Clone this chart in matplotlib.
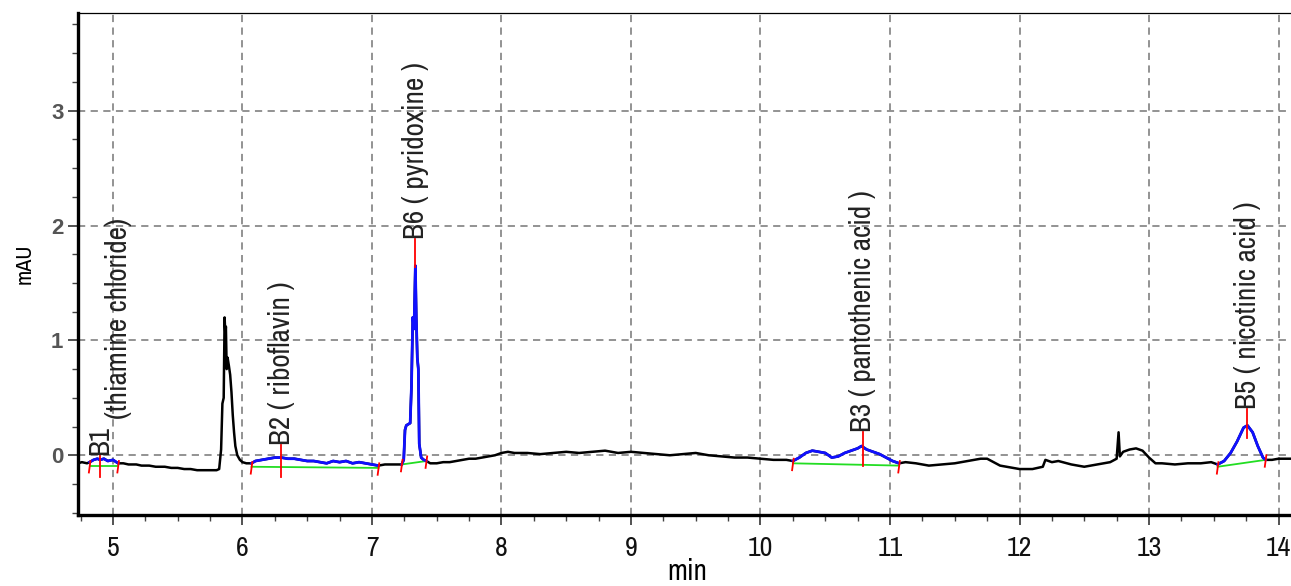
import matplotlib
matplotlib.use("Agg")
import matplotlib.pyplot as plt
from matplotlib.ticker import MultipleLocator

# chromatogram trace (min, mAU)
t = [4.73, 4.76, 4.80, 4.82, 4.85, 4.88, 4.90, 4.93, 4.96, 5.00, 5.04, 5.08, 5.12, 5.18,
     5.22, 5.28, 5.33, 5.40, 5.45, 5.50, 5.55, 5.60, 5.65, 5.70, 5.75, 5.80, 5.82, 5.835,
     5.845, 5.855, 5.862, 5.868, 5.872, 5.878, 5.885, 5.895, 5.905, 5.915, 5.925, 5.935,
     5.945, 5.96, 5.98, 6.00, 6.03, 6.07, 6.10, 6.15, 6.20, 6.25, 6.30, 6.35, 6.40, 6.45,
     6.50, 6.55, 6.60, 6.65, 6.70, 6.75, 6.80, 6.85, 6.90, 6.95, 7.00, 7.05, 7.10, 7.15,
     7.20, 7.23, 7.245, 7.255, 7.265, 7.28, 7.295, 7.305, 7.315, 7.325, 7.335, 7.342,
     7.350, 7.358, 7.365, 7.38, 7.40, 7.42, 7.45, 7.50, 7.55, 7.60, 7.65, 7.70, 7.75,
     7.80, 7.85, 7.90, 7.95, 8.00, 8.05, 8.10, 8.20, 8.30, 8.40, 8.50, 8.60, 8.70, 8.80,
     8.90, 9.00, 9.10, 9.20, 9.30, 9.40, 9.50, 9.60, 9.70, 9.80, 9.90, 10.00, 10.10,
     10.20, 10.25, 10.30, 10.35, 10.40, 10.45, 10.50, 10.55, 10.60, 10.65, 10.70, 10.75,
     10.78, 10.82, 10.87, 10.92, 10.97, 11.02, 11.07, 11.12, 11.20, 11.30, 11.40, 11.50,
     11.60, 11.70, 11.75, 11.80, 11.85, 11.90, 12.00, 12.10, 12.18, 12.20, 12.25, 12.30,
     12.40, 12.50, 12.60, 12.70, 12.75, 12.765, 12.775, 12.80, 12.85, 12.90, 12.95,
     13.00, 13.05, 13.10, 13.20, 13.30, 13.40, 13.48, 13.53, 13.58, 13.63, 13.68, 13.73,
     13.76, 13.80, 13.84, 13.88, 13.90, 13.95, 14.00, 14.05, 14.13]
mau = [-0.07, -0.06, -0.07, -0.06, -0.04, -0.03, -0.04, -0.03, -0.05, -0.04, -0.07, -0.07,
       -0.08, -0.08, -0.09, -0.09, -0.10, -0.10, -0.11, -0.11, -0.12, -0.12, -0.13, -0.13,
       -0.13, -0.13, -0.12, 0.05, 0.45, 0.50, 1.20, 1.05, 1.12, 0.75, 0.85, 0.78, 0.70,
       0.55, 0.35, 0.20, 0.08, 0.00, -0.04, -0.06, -0.07, -0.07, -0.05, -0.04, -0.03,
       -0.02, -0.02, -0.03, -0.03, -0.04, -0.05, -0.05, -0.06, -0.07, -0.05, -0.06, -0.05,
       -0.07, -0.06, -0.07, -0.08, -0.09, -0.08, -0.08, -0.08, -0.08, -0.04, 0.22, 0.26,
       0.27, 0.28, 0.60, 1.20, 1.10, 1.65, 1.20, 0.85, 0.75, 0.10, -0.02, -0.04, -0.05,
       -0.07, -0.07, -0.06, -0.06, -0.05, -0.04, -0.03, -0.03, -0.02, -0.01, 0.00, 0.02,
       0.03, 0.02, 0.02, 0.01, 0.02, 0.03, 0.02, 0.03, 0.04, 0.02, 0.03, 0.02, 0.01, 0.00,
       0.01, 0.02, 0.00, -0.01, -0.02, -0.02, -0.03, -0.04, -0.04, -0.05, -0.02, 0.02,
       0.04, 0.03, 0.02, -0.02, -0.01, 0.02, 0.04, 0.06, 0.08, 0.05, 0.03, 0.01, -0.02,
       -0.05, -0.07, -0.06, -0.07, -0.09, -0.08, -0.07, -0.05, -0.03, -0.03, -0.06, -0.09,
       -0.10, -0.12, -0.12, -0.10, -0.04, -0.06, -0.05, -0.08, -0.10, -0.08, -0.06, -0.03,
       0.20, -0.01, 0.03, 0.05, 0.06, 0.04, -0.02, -0.07, -0.07, -0.08, -0.07, -0.07,
       -0.06, -0.08, -0.05, 0.02, 0.12, 0.24, 0.26, 0.20, 0.08, -0.02, -0.04, -0.04,
       -0.03, -0.03, -0.03]

# integrated peaks
peak_names = ["B1", "B2 ( riboflavin )", "B6 ( pyridoxine )",
              "B3 ( pantothenic acid )", "B5 ( nicotinic acid )"]
peak_start = [4.82, 6.07, 7.23, 10.25, 13.53]
peak_end = [5.04, 7.05, 7.42, 11.07, 13.90]
peak_apex = [4.90, 6.30, 7.335, 10.79, 13.76]
base_start = [-0.09, -0.10, -0.08, -0.07, -0.10]
base_end = [-0.09, -0.11, -0.05, -0.09, -0.04]
marker_lo = [-0.19, -0.19, 1.64, -0.09, 0.15]
label_y = [0.0, 0.09, 1.88, 0.20, 0.40]

narrow = ["Archivo Narrow", "PT Sans Narrow", "DejaVu Sans"]

fig = plt.figure(figsize=(12.91, 5.86), dpi=100)
ax = fig.add_axes([78 / 1291, 71 / 586, (1296 - 78) / 1291, 502 / 586])

ax.plot(t, mau, color="black", lw=1.8, zorder=3)

for i in range(len(peak_names)):
    seg_t = [x for x in t if peak_start[i] <= x <= peak_end[i]]
    seg_v = [v for x, v in zip(t, mau) if peak_start[i] <= x <= peak_end[i]]
    ax.plot(seg_t, seg_v, color="#1010ff", lw=2.0, zorder=4)
    ax.plot([peak_start[i], peak_end[i]], [base_start[i], base_end[i]],
            color="#22dd22", lw=1.3, zorder=3.5)
    for x0, b in [(peak_start[i], base_start[i]), (peak_end[i], base_end[i])]:
        ax.plot([x0 - 0.006, x0 + 0.006], [b - 0.06, b + 0.04], color="red", lw=1.3, zorder=5)
    ax.plot([peak_apex[i], peak_apex[i]], [marker_lo[i], label_y[i]],
            color="red", lw=1.3, zorder=5)
    ax.text(peak_apex[i], label_y[i], peak_names[i], rotation=90, ha="center",
            va="bottom", fontsize=21, family=narrow, color="#222222", zorder=6)

ax.text(5.04, 0.32, "(thiamine chloride)", rotation=90, ha="center", va="bottom",
        fontsize=21, family=narrow, color="#222222", zorder=6)

ax.set_xlim(4.73, 14.135)
ax.set_ylim(-0.52, 3.85)
ax.xaxis.set_major_locator(MultipleLocator(1))
ax.xaxis.set_minor_locator(MultipleLocator(0.25))
ax.yaxis.set_major_locator(MultipleLocator(1))
ax.yaxis.set_minor_locator(MultipleLocator(0.25))
ax.set_yticks([0, 1, 2, 3])

ax.grid(True, which="major", color="#8a8a8a", ls=(0, (4, 3)), lw=1.3)
ax.tick_params(which="major", direction="out", length=7, width=1.3, colors="#444444")
ax.tick_params(which="minor", direction="out", length=4, width=1.0, colors="#444444")
ax.tick_params(axis="x", pad=8)
for lab in ax.get_xticklabels():
    lab.set_family(narrow)
    lab.set_fontsize(20)
    lab.set_color("#111111")
for lab in ax.get_yticklabels():
    lab.set_family(["Liberation Sans", "DejaVu Sans"])
    lab.set_fontsize(16)
    lab.set_fontweight("bold")
    lab.set_color("#555555")

ax.spines["left"].set_linewidth(2.4)
ax.spines["bottom"].set_linewidth(2.4)
ax.spines["top"].set_linewidth(0.9)
ax.spines["right"].set_visible(False)

ax.set_xlabel("min", fontsize=21, family=narrow, labelpad=-2)
ax.set_ylabel("mAU", fontsize=16, family=narrow, labelpad=12)

fig.savefig("out.png", dpi=100)
